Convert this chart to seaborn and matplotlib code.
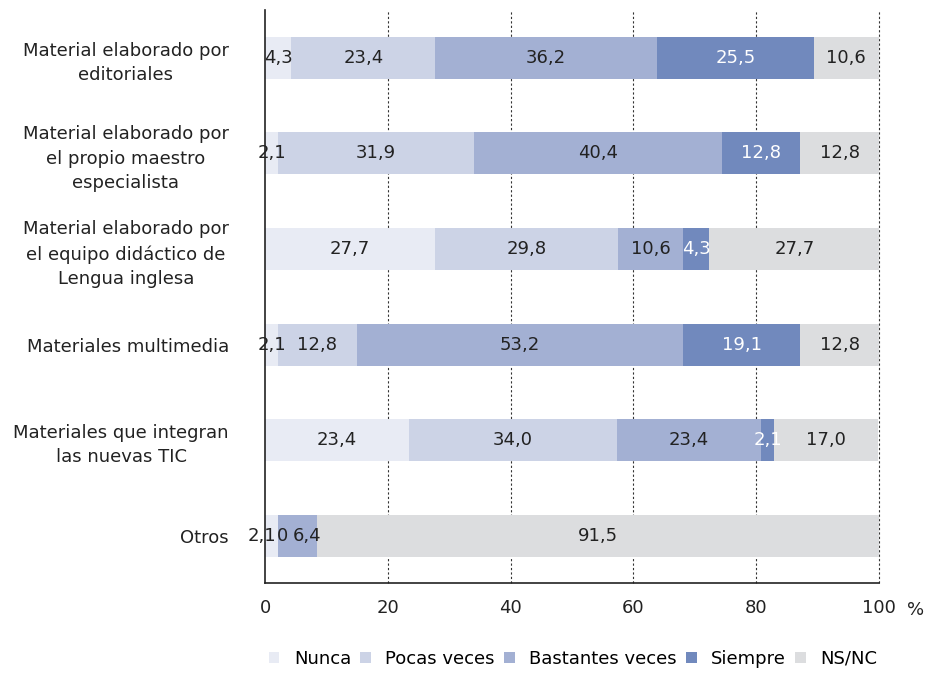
import numpy as np
import pandas as pd
import seaborn as sns
import matplotlib.pyplot as plt
from matplotlib.patches import Patch

# datos
categorias = ['Material elaborado por\neditoriales',
              'Material elaborado por\nel propio maestro\nespecialista',
              'Material elaborado por\nel equipo didáctico de\nLengua inglesa',
              'Materiales multimedia',
              'Materiales que integran\nlas nuevas TIC',
              'Otros']
series = ['Nunca', 'Pocas veces', 'Bastantes veces', 'Siempre', 'NS/NC']
nunca = [4.3, 2.1, 27.7, 2.1, 23.4, 2.1]
pocas = [23.4, 31.9, 29.8, 12.8, 34.0, 0.0]
bastantes = [36.2, 40.4, 10.6, 53.2, 23.4, 6.4]
siempre = [25.5, 12.8, 4.3, 19.1, 2.1, 0.0]
nsnc = [10.6, 12.8, 27.7, 12.8, 17.0, 91.5]
colores = ['#E8EBF4', '#CCD3E6', '#A3B0D3', '#7189BD', '#DCDDDF']
texto_color = ['#222222', '#222222', '#222222', '#FFFFFF', '#222222']

valores = np.array([nunca, pocas, bastantes, siempre, nsnc])
acum = np.cumsum(valores, axis=0)
inicio = acum - valores

fs = 13
fig = plt.figure(figsize=(9.3, 6.76), dpi=100)
ax = fig.add_axes([0.285, 0.137, 0.66, 0.848])

# barras apiladas: dibujar acumulados de mayor a menor
for i in range(len(series) - 1, -1, -1):
    df = pd.DataFrame({'cat': categorias, 'val': acum[i]})
    sns.barplot(data=df, x='val', y='cat', orient='h', color=colores[i],
                width=0.44, saturation=1, ax=ax, zorder=2)

# desplazamientos de etiquetas en la fila "Otros" (barras muy estrechas)
ajuste = {(0, 5): -1.5, (1, 5): 0.8, (2, 5): 1.6}

# etiquetas
for i in range(len(series)):
    for j in range(len(categorias)):
        v = valores[i, j]
        if v == 0 and i == 3:
            continue
        if v == 0:
            cx = inicio[i, j]
        else:
            cx = inicio[i, j] + v / 2
        cx += ajuste.get((i, j), 0)
        txt = f'{v:.1f}'.replace('.', ',') if v != 0 else '0'
        ax.text(cx, j, txt, ha='center', va='center', fontsize=fs,
                color=texto_color[i], zorder=4, clip_on=False)

ax.set_xlim(0, 100)
ax.set_ylim(5.5, -0.5)
ax.set_xticks([0, 20, 40, 60, 80, 100])
ax.set_xlabel('')
ax.set_ylabel('')
ax.tick_params(axis='x', length=0, pad=11, labelsize=fs, colors='#222222')
ax.tick_params(axis='y', length=0, pad=26, labelsize=fs, colors='#222222')
for lab in ax.get_yticklabels():
    lab.set_multialignment('center')
    lab.set_linespacing(1.45)

for x in [20, 40, 60, 80, 100]:
    ax.axvline(x, color='#333333', linestyle=(0, (2, 2)), linewidth=0.8,
               zorder=1, clip_on=False)

ax.spines['top'].set_visible(False)
ax.spines['right'].set_visible(False)
ax.spines['left'].set_color('#222222')
ax.spines['bottom'].set_color('#222222')
ax.spines['left'].set_linewidth(1.2)
ax.spines['bottom'].set_linewidth(1.2)

ax.text(1.06, -0.03, '%', transform=ax.transAxes, ha='center', va='top',
        fontsize=fs, color='#222222')

handles = [Patch(facecolor=c, edgecolor='none') for c in colores]
fig.legend(handles, series, loc='lower center', bbox_to_anchor=(0.616, -0.012),
           ncol=5, frameon=False, fontsize=fs, handlelength=0.6, handleheight=0.6,
           handletextpad=0.8, columnspacing=0.5)

fig.savefig('out.png', dpi=100)
